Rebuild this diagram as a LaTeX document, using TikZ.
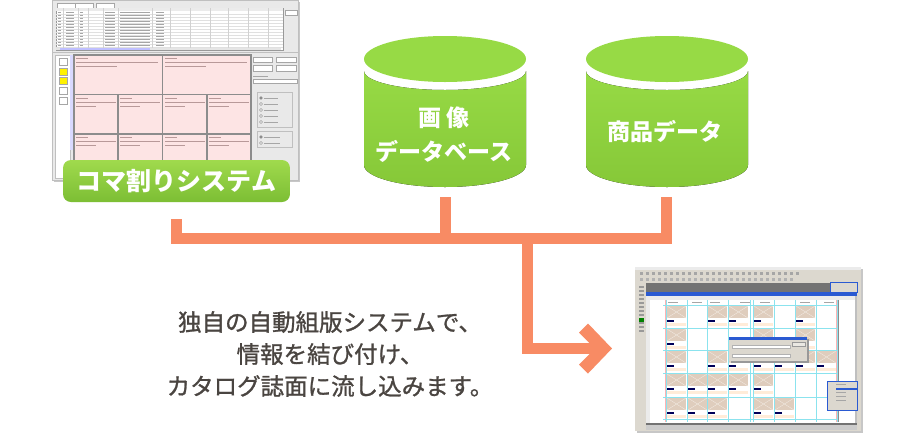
\documentclass[tikz,border=0pt]{standalone}
\usepackage{fontspec}
\setmainfont{Noto Sans CJK JP}
\newfontfamily\jpmed[FakeBold=1.1]{Noto Sans CJK JP}
\usepackage{tikz}

\definecolor{conncol}{HTML}{F88B64}
\definecolor{cylgreen}{HTML}{97DA45}
\definecolor{cyldark}{HTML}{86C838}
\definecolor{btntop}{HTML}{A0DA4D}
\definecolor{btnbot}{HTML}{7CBE34}
\definecolor{bodytext}{HTML}{4A4541}
\definecolor{pinkcell}{HTML}{FDE4E4}
\definecolor{framegray}{HTML}{E9E9E9}
\definecolor{xpgray}{HTML}{DCD8CF}
\definecolor{winblue}{HTML}{2A5AD2}
\definecolor{guide}{HTML}{8BE3EE}
\definecolor{phtan}{HTML}{DFCDBD}

\tikzset{
  conn/.style={draw=conncol, line width=11.5pt, line join=miter},
  cylbody/.style={top color=cylgreen, bottom color=cyldark},
  cyllabel/.style={text=white, font=\bfseries\fontsize{23}{34}\selectfont, align=center},
  btn/.style={rounded corners=8pt, top color=btntop, bottom color=btnbot,
    minimum width=227pt, minimum height=42pt, text=white,
    font=\bfseries\fontsize{25}{30}\selectfont},
  cell/.style={fill=pinkcell, draw=black!45, line width=1.2pt},
  fake/.style={black!35, line width=0.9pt},
  uibtn/.style={draw=black!35, fill=white, line width=0.5pt}
}

% cylinder at centre x
\newcommand{\dbcyl}[1]{%
  \fill[cylbody] (#1-81,71) -- (#1-81,165)
    arc[start angle=180, end angle=0, x radius=81, y radius=22]
    -- (#1+81,71)
    arc[start angle=0, end angle=180, x radius=81, y radius=19] -- cycle;
  \fill[cylgreen] (#1,59) ellipse[x radius=81, y radius=23];
}

% image placeholder in a layout cell
\newcommand{\phbox}[2]{%
  \fill[phtan] (#1+1,#2+1) rectangle (#1+20,#2+13);
  \draw[white!55!phtan, line width=0.4pt] (#1+1,#2+1) -- (#1+20,#2+13) (#1+1,#2+13) -- (#1+20,#2+1);
  \fill[black!65!blue] (#1+1,#2+15) rectangle (#1+8,#2+16.5);
  \fill[orange!15] (#1+1,#2+18) rectangle (#1+20,#2+21);
}

\begin{document}
\begin{tikzpicture}[x=1pt, y=-1pt]
\useasboundingbox (0,0) rectangle (900,440);
\fill[white] (0,0) rectangle (900,440);

% screenshot: koma system
\fill[black!22] (54,2) rectangle (300,182);
\fill[framegray] (52,0) rectangle (298,180);
\draw[black!25] (52,0) rectangle (298,180);
\foreach \x in {57,75,96} \draw[uibtn] (\x,3) rectangle ++(18,5);
\fill[white] (56,8) rectangle (283,50);
\draw[black!40, line width=0.5pt] (56,8) rectangle (283,50);
\fill[black!8] (56,8.3) rectangle (283,11);
\foreach \y in {14,17,...,47} \draw[black!12, line width=0.3pt] (56,\y) -- (283,\y);
\foreach \x in {63,78,88,103,118,152,170,190,210,228,248,268} \draw[black!18, line width=0.3pt] (\x,8) -- (\x,48);
\foreach \y in {12.5,15.5,...,45.5}
  \draw[fake] (58,\y) -- (61,\y) (66,\y) -- (74,\y) (80,\y) -- (83,\y)
    (105,\y) -- (115,\y) (120,\y) -- (150,\y) (156,\y) -- (164,\y);
\fill[black!10] (56,47.5) rectangle (281,50);
\fill[blue!25] (60,48) rectangle (150,49.5);
\draw[uibtn] (285,10) rectangle (297,15);
\draw[black!25] (52,52.5) -- (298,52.5);
\fill[white] (55,55) rectangle (70,178);
\draw[black!25, line width=0.4pt] (55,55) rectangle (70,178);
\foreach \y/\c in {58/white,68/yellow,77/yellow,87/white,97/white}
  \draw[draw=black!35, fill=\c, line width=0.5pt] (59,\y) rectangle ++(8,7);
\fill[blue!15] (70,55) rectangle (73,150);
\draw[cell] (74,55) rectangle (162.5,94.5);
\draw[cell] (162.5,55) rectangle (251,94.5);
\foreach \y in {94.5,134} {
  \draw[cell] (74,\y) rectangle (118,\y+39.5);
  \draw[cell] (118,\y) rectangle (162.5,\y+39.5);
  \draw[cell] (162.5,\y) rectangle (207,\y+39.5);
  \draw[cell] (207,\y) rectangle (251,\y+39.5);
}
\foreach \x/\y/\w in {76/57/82,165/57/82,76/97/40,120/97/40,165/97/40,209/97/40,76/136/40,120/136/40,165/136/40,209/136/40}
  \draw[fake, red!30!black!40] (\x,\y+1) -- ++(12,0) (\x,\y+5) -- ++(\w,0) (\x,\y+9) -- ++(\w*0.5,0);
\draw[uibtn] (253,57) rectangle (272,62.5);
\draw[uibtn] (276,57) rectangle (296,62.5);
\draw[uibtn] (253,65.5) rectangle (272,71);
\draw[uibtn] (276,65.5) rectangle (296,71);
\draw[fake] (253,76) -- (268,76);
\draw[uibtn] (253,79) rectangle (297,83);
\draw[black!25, line width=0.5pt] (257,92) rectangle (292,127);
\foreach \y in {98,104,110,116,122} {
  \draw[black!40, fill=white, line width=0.4pt] (261,\y) circle[radius=1.5];
  \draw[fake] (264,\y) -- (278,\y);
}
\fill[black!70] (261,98) circle[radius=0.8];
\draw[black!25, line width=0.5pt] (257,131) rectangle (292,147);
\foreach \y in {137,143} {
  \draw[black!40, fill=white, line width=0.4pt] (261,\y) circle[radius=1.5];
  \draw[fake] (264,\y) -- (280,\y);
}
\fill[black!70] (261,137) circle[radius=0.8];

% screenshot: layout result
\fill[black!22] (637,269) rectangle (863,433);
\fill[xpgray] (635,267) rectangle (861,431);
\fill[black!8] (635,267) rectangle (861,270);
\foreach \x in {640,646,...,800} \fill[black!35] (\x,272) rectangle ++(3,3);
\foreach \x in {640,646,...,790} \fill[black!30] (\x,277.5) rectangle ++(3,3);
\fill[black!55] (646,283) rectangle (857,425);
\fill[xpgray] (637,283) rectangle (646,337);
\foreach \y in {286,290,...,330} \fill[black!40] (639,\y) rectangle ++(5,2);
\fill[green!50!black] (639,318) rectangle ++(5,4);
\fill[xpgray] (830,282) rectangle (857,292);
\draw[winblue, line width=0.5pt] (830,282) rectangle (857,292);
\fill[white] (646,292) rectangle (855,423);
\fill[winblue] (646,292) rectangle (857,296);
\fill[black!8] (646,296) rectangle (855,300);
\fill[black!8] (646,300) rectangle (650,423);
\fill[black!25] (855,296) rectangle (857,423);
\fill[xpgray] (857,296) rectangle (861,425);
\draw[red!30, line width=0.4pt] (665,300) -- (665,422) (836,300) -- (836,422);
\draw[black!45, line width=0.6pt] (838.5,300) -- (838.5,422);
\foreach \x in {668,692,710,740,760,800,824} \draw[fake] (\x,302.5) -- ++(10,0);
\foreach \x/\y in {666/305,707/305,728/305,753/305,795/305,
  666/328,753/328,795/328,
  666/350,707/350,728/350,753/350,774/350,795/350,816/350,
  666/373,687/373,707/373,728/373,753/373,
  666/397,687/397,707/397,753/397,774/397}
  \phbox{\x}{\y};
\foreach \x in {666,687,707,728,750,753,774,795,816,837}
  \draw[guide, line width=0.6pt] (\x,300) -- (\x,422);
\foreach \y in {305,328,350,373,397,419}
  \draw[guide, line width=0.6pt] (663,\y) -- (838,\y);
\fill[black!40] (731,339) rectangle (809,363);
\fill[xpgray] (729,337) rectangle (807,361);
\fill[winblue] (729,337) rectangle (807,340);
\draw[black!30, fill=white, line width=0.4pt] (732,345) rectangle (790,348);
\draw[black!30, fill=white, line width=0.4pt] (732,354) rectangle (790,357);
\draw[black!40, fill=xpgray!60, line width=0.4pt] (792,342) rectangle (805,346);
\fill[xpgray] (827,381) rectangle (857,410);
\draw[winblue, line width=0.5pt] (827,381) rectangle (857,410);
\fill[winblue] (836,388) rectangle (857,389.5);
\foreach \y in {384,392,396,400} \draw[fake] (836,\y) -- (846,\y);
\fill[black!20] (646,425) rectangle (857,430);

% nodes
\dbcyl{445}
\dbcyl{667}
\node[cyllabel] (imgdb) at (444,135) {画 像\\データベース};
\node[cyllabel] (itemdb) at (665,131.5) {商品データ};
\node[btn] (koma) at (176.5,181) {コマ割りシステム};
\node[text=bodytext, font=\jpmed\fontsize{23.5}{32}\selectfont, align=center] (desc) at (330,354)
  {独自の自動組版システムで、\\情報を結び付け、\\カタログ誌面に流し込みます。};

% connectors
\coordinate (bus) at (0,238.5);
\coordinate (komaout) at (176.5,219);
\coordinate (imgout) at (445.5,197);
\coordinate (itemout) at (666.5,197);
\coordinate (split) at (527.5,238.5);
\coordinate (tip) at (612,348.5);
\draw[conn] (komaout) -- (komaout |- bus) -- (itemout |- bus) -- (itemout);
\draw[conn] (imgout) -- (imgout |- bus);
\draw[conn] (split) |- ([xshift=-14pt]tip);
\fill[conncol] (tip) -- ++(-24,-25) -- ++(-9,9) -- ++(16,16) -- ++(-16,16) -- ++(9,9) -- cycle;
\end{tikzpicture}
\end{document}
